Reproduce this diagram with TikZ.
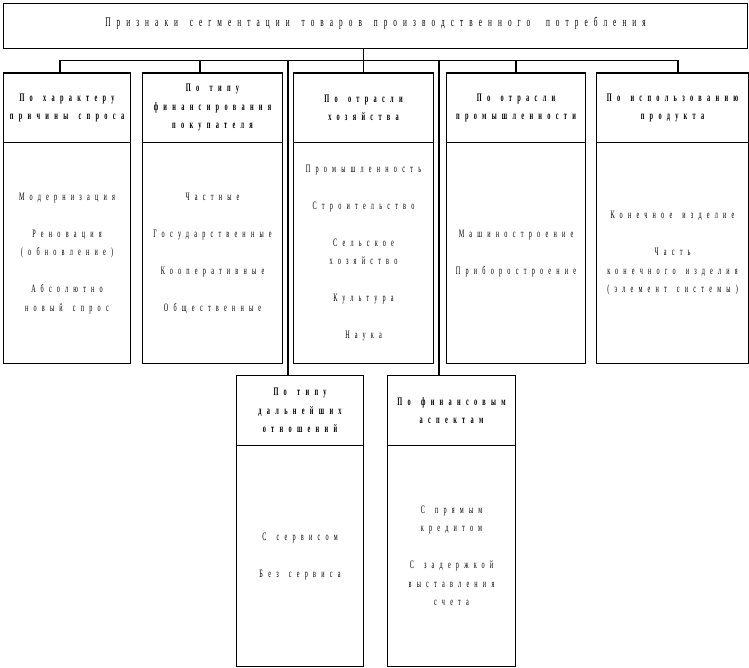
\documentclass[tikz,border=0pt]{standalone}
\usepackage{fontspec}
\setmainfont{Liberation Serif}[FakeStretch=0.55, LetterSpace=46, WordSpace=1.5]
\newcommand\titlefont{\fontsize{13.2}{16}\selectfont}
\newcommand\headfont{\bfseries\fontsize{11.5}{18.5}\selectfont}
\newcommand\itemfont{\fontsize{11.3}{18.5}\selectfont}
\tikzset{
  boxline/.style={draw=black, line width=1.1pt},
  headbox/.style={boxline, inner sep=0pt, anchor=north west, align=center, font=\headfont},
  bodybox/.style={boxline, inner sep=0pt, anchor=north west, align=center, font=\itemfont},
  conn/.style={draw=black, line width=1.1pt},
}
% #1 name, #2 x1, #3 x2, #4 ytop, #5 ydiv, #6 ybot, #7 header, #8 body
\newcommand\mkseg[8]{%
  \node[headbox, minimum width=#3-#2, minimum height=#5-#4] (h#1) at (#2,#4) {#7};
  \node[bodybox, minimum width=#3-#2, minimum height=#6-#5] (d#1) at (#2,#5) {#8};
}
\begin{document}
\begin{tikzpicture}[x=1pt, y=-1pt]
\useasboundingbox (0,0) rectangle (749,668);
\node[boxline, inner sep=0pt, minimum width=744, minimum height=45, anchor=north west] (title) at (3,3) {};
\node[font=\titlefont, inner sep=0pt, anchor=base] (titletext) at (title.center |- 0,26.5)
  {Признаки сегментации товаров производственного\hspace{4pt} потребления};

\mkseg{1}{3}{130}{72.5}{142}{363}{По характеру\\причины спроса}
  {Модернизация\\[18.5pt]Реновация\\(обновление)\\[18.5pt]Абсолютно\\новый спрос}
\mkseg{2}{142}{282}{72.5}{142}{363}{По типу\\финансирования\\покупателя}
  {Частные\\[18.5pt]Государственные\\[18.5pt]Кооперативные\\[18.5pt]Общественные}
\mkseg{3}{293}{433}{72.5}{142}{363}{По отрасли\\хозяйства}
  {Промышленность\\[18.5pt]Строительство\\[18.5pt]Сельское\\хозяйство\\[18.5pt]Культура\\[18.5pt]Наука}
\mkseg{4}{446}{585}{72.5}{142}{363}{По отрасли\\промышленности}
  {Машиностроение\\[18.5pt]Приборостроение}
\mkseg{5}{596}{748}{72.5}{142}{363}{По использованию\\продукта}
  {Конечное изделие\\[18.5pt]Часть\\конечного изделия\\(элемент системы)}
\mkseg{6}{236}{363}{375}{445}{666}{По типу\\дальнейших\\отношений}
  {С сервисом\\[18.5pt]Без сервиса}
\mkseg{7}{387}{515}{375}{445}{666}{По финансовым\\аспектам}
  {С прямым\\кредитом\\[18.5pt]С задержкой\\выставления\\счета}

% bus coordinates
\coordinate (p1) at (60,60.5);
\coordinate (p2) at (200,60.5);
\coordinate (p3) at (288,60.5);
\coordinate (p4) at (439,60.5);
\coordinate (p5) at (516,60.5);
\coordinate (p6) at (678,60.5);

\draw[conn] (p1) -- (p6);
\draw[conn] (h3.north) -- (h3.north |- title.south);
\draw[conn] (p1) -- (p1 |- h1.north);
\draw[conn] (p2) -- (p2 |- h2.north);
\draw[conn] (p5) -- (p5 |- h4.north);
\draw[conn] (p6) -- (p6 |- h5.north);
\draw[conn] (p3) -- (p3 |- h6.north);
\draw[conn] (p4) -- (p4 |- h7.north);
\end{tikzpicture}
\end{document}
